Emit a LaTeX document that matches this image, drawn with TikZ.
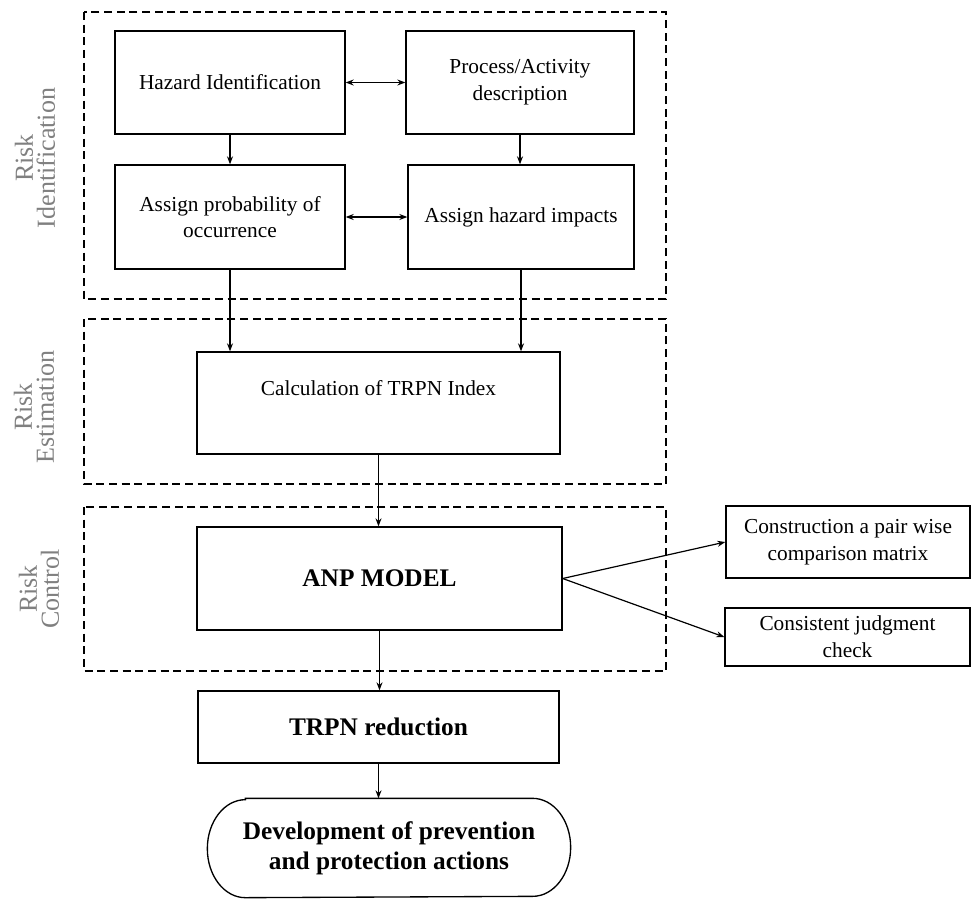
\documentclass[tikz,border=0pt]{standalone}
\usepackage{fontspec}
\setmainfont{Liberation Serif}
\usetikzlibrary{arrows.meta}
\begin{document}
\begin{tikzpicture}[x=0.75pt,y=-0.75pt,
  box/.style={draw,line width=1pt,align=center,font=\fontsize{16}{20}\selectfont,inner sep=0pt},
  boldbox/.style={box,font=\fontsize{19}{22.5}\selectfont\bfseries},
  region/.style={draw,line width=1.1pt,dash pattern=on 6pt off 3.5pt},
  side/.style={rotate=90,align=center,text=black!50,font=\fontsize{19.5}{16.5}\selectfont},
  arr/.style={-{Stealth[length=6pt,width=4.5pt]},line width=0.9pt},
  darr/.style={{Stealth[length=6pt,width=4.5pt]}-{Stealth[length=6pt,width=4.5pt]},line width=0.9pt}]
\useasboundingbox (0,0) rectangle (973,899);
% regions
\draw[region] (84,12) rectangle (666,299);
\draw[region] (84,319) rectangle (666,484);
\draw[region] (84,507) rectangle (666,671);
% side labels
\node[side] (l1) at (35,158) {Risk\\Identification};
\node[side] (l2) at (34,407) {Risk\\Estimation};
\node[side] (l3) at (39,589) {Risk\\Control};
% boxes
\node[box,minimum width=172.5pt,minimum height=77.25pt] (hz) at (230,82.5) {Hazard Identification};
\node[box,minimum width=171pt,minimum height=77.25pt] (proc) at (520,82.5) {Process/Activity\\description};
\node[box,minimum width=172.5pt,minimum height=78pt] (prob) at (230,217) {Assign probability of\\occurrence};
\node[box,minimum width=169.5pt,minimum height=78pt] (imp) at (521,217) {Assign hazard impacts};
\node[box,minimum width=272.25pt,minimum height=76.5pt,text depth=22pt] (calc) at (378.5,403) {Calculation of TRPN Index};
\node[boldbox,minimum width=273.75pt,minimum height=77.25pt] (anp) at (379.5,578.5) {ANP MODEL};
\node[boldbox,minimum width=270.75pt,minimum height=54pt] (trpn) at (378.5,727) {TRPN reduction};
\node[boldbox,draw=none,minimum width=271.5pt,minimum height=73.5pt] (dev) at (389,848) {Development of prevention\\and protection actions};
\draw[line width=1pt] ([xshift=28.5pt]dev.north west) -- ([xshift=-28.5pt]dev.north east)
  arc[start angle=90,end angle=-90,x radius=28.5pt,y radius=36.75pt]
  -- ([xshift=28.5pt]dev.south west)
  arc[start angle=270,end angle=90,x radius=28.5pt,y radius=36.75pt] -- cycle;
\node[box,minimum width=183pt,minimum height=54pt] (cons) at (848,542) {Construction a pair wise\\comparison matrix};
\node[box,minimum width=183.75pt,minimum height=43.5pt] (chk) at (847.5,637) {Consistent judgment\\check};
% connectors
\draw[darr] (hz.east) -- (proc.west);
\draw[darr] (prob.east) -- (imp.west);
\draw[arr] (hz.south) -- (prob.north);
\draw[arr] (proc.south) -- (proc.south |- imp.north);
\draw[arr] (prob.south) -- (prob.south |- calc.north);
\draw[arr] (imp.south) -- (imp.south |- calc.north);
\draw[arr] (calc.south) -- (calc.south |- anp.north);
\draw[arr] (anp.south) -- (anp.south |- trpn.north);
\draw[arr] (trpn.south) -- (trpn.south |- dev.north);
\draw[arr] (anp.east) -- (cons.west);
\draw[arr] (anp.east) -- (chk.west);
\end{tikzpicture}
\end{document}
